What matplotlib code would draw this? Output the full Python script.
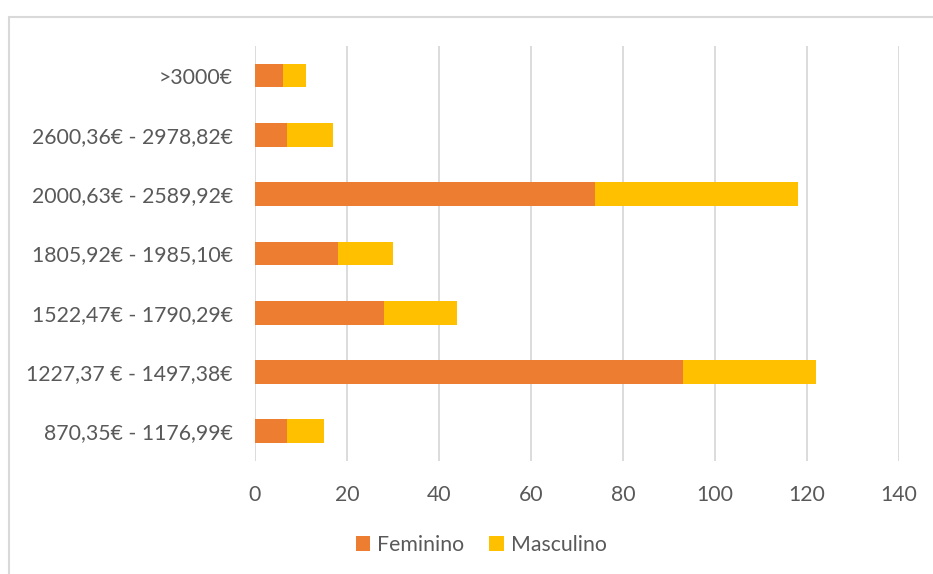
import matplotlib.pyplot as plt
from matplotlib.patches import Rectangle

# Dados
categorias = ["870,35€ - 1176,99€", "1227,37 € - 1497,38€", "1522,47€ - 1790,29€",
              "1805,92€ - 1985,10€", "2000,63€ - 2589,92€", "2600,36€ - 2978,82€", ">3000€"]
feminino = [7, 93, 28, 18, 74, 7, 6]
masculino = [8, 29, 16, 12, 44, 10, 5]
ticks_x = [0, 20, 40, 60, 80, 100, 120, 140]

cor_fem = "#ED7D31"
cor_masc = "#FFC000"
cor_texto = "#595959"
cor_grelha = "#D9D9D9"

plt.rcParams['font.family'] = ['Lato', 'DejaVu Sans']

fig = plt.figure(figsize=(9.33, 5.74), dpi=100)
ax = fig.add_axes([255 / 933, 1 - 461 / 574, (899 - 255) / 933, (461 - 46) / 574])

y = range(len(categorias))
ax.barh(y, feminino, height=0.4, color=cor_fem, label="Feminino", zorder=3)
ax.barh(y, masculino, left=feminino, height=0.4, color=cor_masc, label="Masculino", zorder=3)

ax.set_xlim(0, 140)
ax.set_ylim(-0.5, len(categorias) - 0.5)
ax.set_xticks(ticks_x)
ax.set_yticks(list(y))
ax.set_yticklabels(categorias)
ax.tick_params(axis="both", length=0, labelsize=15.3, colors=cor_texto)
ax.tick_params(axis="x", pad=17)
ax.tick_params(axis="y", pad=16)
ax.grid(axis="x", color=cor_grelha, linewidth=1.3, zorder=0)
for s in ax.spines.values():
    s.set_visible(False)

# Legenda
fig.legend(loc="center", bbox_to_anchor=(481 / 933, 1 - 545 / 574), ncol=2, frameon=False,
           fontsize=15.3, labelcolor=cor_texto, handlelength=0.7, handleheight=0.7,
           handletextpad=0.3, columnspacing=1.2)

# Moldura do gráfico
fig.patches.append(Rectangle((9 / 933, -0.1), 1.2, 1 - 17 / 574 + 0.1, transform=fig.transFigure,
                             fill=False, edgecolor=cor_grelha, linewidth=1.5))

fig.savefig("out.png", dpi=100)
